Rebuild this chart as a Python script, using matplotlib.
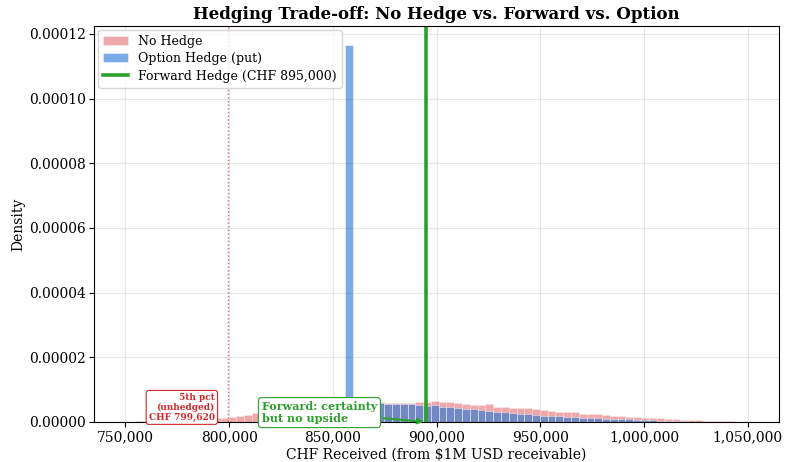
import numpy as np
import matplotlib
matplotlib.use("Agg")
import matplotlib.pyplot as plt
from matplotlib.ticker import FuncFormatter, FormatStrFormatter

plt.rcParams['font.family'] = ['DejaVu Serif']

# ---- data ----
bin_start = 751000
bin_width = 3750
n_bins = 80

# No hedge density per bin (x1e-6)
no_hedge = [0.15, 0.2, 0.3, 0.4, 0.5, 0.6, 0.7, 0.8, 0.9, 1.0, 1.05, 1.1, 1.2,
            1.6, 1.9, 2.2,
            2.7, 3.1, 3.5, 3.9, 4.2, 4.5, 4.8, 5.0, 5.2, 5.4, 5.6, 5.7, 5.8, 5.9,
            6.0, 6.0, 6.1, 6.0, 6.0,
            5.97, 5.97, 6.08, 6.08, 6.49, 6.08, 6.08, 5.77, 5.56, 5.36,
            5.15, 5.46, 4.74, 4.53, 4.43, 4.22, 4.22, 4.02, 3.71, 3.40,
            3.19, 2.99, 2.99, 2.58, 2.47, 2.37, 2.16, 1.96, 1.75, 1.65,
            1.44, 1.34, 1.24, 1.13, 0.93, 0.82, 0.72, 0.62, 0.52, 0.41,
            0.31, 0.31, 0.21, 0.10, 0.05]

# Option hedge density per bin (x1e-6); floor spike in bin 28
option = [0.0] * 28 + [116.6,
          5.8, 5.8, 5.7, 5.8, 5.7, 5.6,
          5.56, 5.46, 5.15, 4.94, 5.25, 4.53, 4.53, 4.22, 4.12, 3.91,
          3.71, 3.50, 3.19, 3.09, 2.88, 2.58, 2.37, 2.27, 1.96, 1.85,
          1.75, 1.55, 1.44, 1.34, 1.24, 1.13, 1.03, 0.93, 0.82, 0.80,
          0.72, 0.62, 0.52, 0.41, 0.31, 0.21, 0.18, 0.10]
option = option + [0.0] * (n_bins - len(option))

forward_rate_chf = 895000
p5_unhedged = 799620

x_ticks = [750000, 800000, 850000, 900000, 950000, 1000000, 1050000]
y_ticks = [0.0, 0.00002, 0.00004, 0.00006, 0.00008, 0.00010, 0.00012]

# ---- plot ----
edges = bin_start + bin_width * np.arange(n_bins + 1)
centers = 0.5 * (edges[:-1] + edges[1:])
nh = np.array(no_hedge) * 1e-6
op = np.array(option) * 1e-6

fig = plt.figure(figsize=(7.87, 4.62), dpi=100)
ax = fig.add_axes([0.1198, 0.0866, 0.870, 0.857])

ax.hist(centers, bins=edges, weights=nh, color='#d62728', alpha=0.4,
        edgecolor='white', linewidth=0.5, label='No Hedge')
ax.hist(centers, bins=edges, weights=op, color='#2373d7', alpha=0.6,
        edgecolor='white', linewidth=0.5, label='Option Hedge (put)')
ax.axvline(forward_rate_chf, color='#2ca02c', lw=2.6,
           label=f'Forward Hedge (CHF {forward_rate_chf:,})')
ax.axvline(p5_unhedged, color='#d62728', ls=':', lw=1.0, alpha=0.7)

ax.text(p5_unhedged - 6500, 0.0000001,
        f'5th pct\n(unhedged)\nCHF {p5_unhedged:,}',
        ha='right', va='bottom', fontsize=6.5, fontweight='bold',
        color='#d62728', linespacing=1.1,
        bbox=dict(boxstyle='round,pad=0.3', fc='white', ec='#d62728', lw=0.8),
        clip_on=False, zorder=5)

ax.annotate('Forward: certainty\nbut no upside',
            xy=(forward_rate_chf, 0), xytext=(843500, 0.0000029),
            ha='center', va='center', multialignment='left',
            fontsize=8, fontweight='bold',
            color='#2ca02c', linespacing=1.15,
            bbox=dict(boxstyle='round,pad=0.3', fc='white', ec='#2ca02c', lw=0.8),
            arrowprops=dict(arrowstyle='->', color='#2ca02c', lw=1.5),
            zorder=5, annotation_clip=False)

ax.set_xlim(735000, 1065000)
ax.set_ylim(0, 1.05 * op.max())
ax.set_xticks(x_ticks)
ax.set_yticks(y_ticks)
ax.xaxis.set_major_formatter(FuncFormatter(lambda v, p: f'{v:,.0f}'))
ax.yaxis.set_major_formatter(FormatStrFormatter('%.5f'))
ax.tick_params(labelsize=10, pad=2.5)
ax.grid(True, alpha=0.3)
ax.set_axisbelow(True)

ax.set_xlabel('CHF Received (from \\$1M USD receivable)', fontsize=10, labelpad=2.5)
ax.set_ylabel('Density', fontsize=10, labelpad=3)
ax.set_title('Hedging Trade-off: No Hedge vs. Forward vs. Option',
             fontsize=12, fontweight='bold', pad=5)

h, l = ax.get_legend_handles_labels()
order = [l.index('No Hedge'), l.index('Option Hedge (put)'),
         l.index(f'Forward Hedge (CHF {forward_rate_chf:,})')]
ax.legend([h[i] for i in order], [l[i] for i in order],
          loc='upper left', fontsize=9, labelspacing=0.35,
          borderaxespad=0.3)

fig.savefig('out.png', dpi=100)
